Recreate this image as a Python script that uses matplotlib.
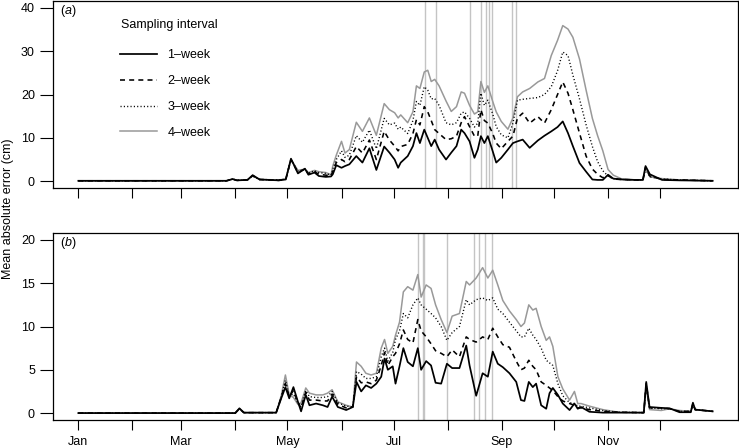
import matplotlib
matplotlib.use("Agg")
import matplotlib.pyplot as plt

plt.rcParams['font.family'] = ['Liberation Sans', 'DejaVu Sans']
plt.rcParams['font.size'] = 9
plt.rcParams['mathtext.fontset'] = 'custom'
plt.rcParams['mathtext.rm'] = 'Liberation Sans'
plt.rcParams['mathtext.it'] = 'Liberation Sans:italic'
plt.rcParams['lines.scale_dashes'] = False

# day of year (0 = 1 Jan)
month_starts = [0, 31, 59, 90, 120, 151, 181, 212, 243, 273, 304, 334]
month_labels = ['Jan', '', 'Mar', '', 'May', '', 'Jul', '', 'Sep', '', 'Nov', '']

# ---- panel (a) ----
days_a = [0, 60, 85, 88.5, 91, 97, 100, 104, 115, 119,
          122, 126, 130, 132, 135.5, 138, 142, 145, 146, 148,
          151, 153, 155.5, 159.5, 163, 167, 171, 175.5, 178.5, 181.5,
          183.5, 185, 189, 192, 194, 196, 198.5, 200.5, 202.5, 204.5,
          207, 211, 214, 217, 219.7, 221.6, 224.5, 227.3, 229.2, 231,
          233, 235, 237.8, 239.8, 242.7, 246.5, 249.4, 252, 255, 259,
          263.7, 267.5, 271.4, 275, 278, 281, 283.8, 287.6, 291.4, 295,
          298, 301, 304, 307, 312, 320, 324, 325.5, 328, 335,
          345, 364]
a_1wk = [0.1, 0.1, 0.1, 0.5, 0.2, 0.3, 1.4, 0.4, 0.2, 0.4,
         5.2, 1.8, 2.9, 1.5, 2.0, 1.2, 1.0, 1.1, 1.6, 3.7,
         3.1, 3.5, 3.9, 5.8, 4.3, 7.6, 2.6, 8.0, 6.6, 5.0,
         3.1, 4.3, 5.8, 8.1, 11.1, 8.8, 11.9, 10.0, 8.1, 9.6,
         7.3, 5.0, 6.6, 8.1, 11.9, 11.1, 9.2, 5.4, 7.3, 10.4,
         8.8, 10.4, 6.9, 4.3, 5.4, 7.3, 8.8, 9.2, 9.6, 7.7,
         9.4, 10.5, 11.5, 12.5, 13.8, 11.1, 8.1, 4.2, 2.2, 0.4,
         0.3, 0.3, 1.5, 0.6, 0.4, 0.3, 0.3, 3.5, 1.6, 0.3,
         0.2, 0.1]
a_2wk = [0.1, 0.1, 0.1, 0.5, 0.2, 0.3, 1.3, 0.4, 0.2, 0.4,
         5.0, 2.0, 2.8, 1.7, 2.2, 1.6, 1.4, 1.3, 2.2, 4.3,
         5.0, 4.5, 5.0, 8.0, 6.5, 9.5, 5.0, 11.5, 9.5, 8.1,
         7.0, 8.0, 8.5, 11.0, 14.2, 13.0, 17.2, 16.0, 14.0, 11.9,
         11.0, 9.6, 9.8, 10.4, 13.5, 14.9, 12.6, 10.4, 10.4, 16.5,
         14.0, 13.4, 11.0, 8.8, 7.5, 9.2, 10.4, 14.6, 15.7, 13.4,
         14.9, 13.4, 16.5, 20.0, 22.9, 20.3, 16.5, 11.1, 5.8, 2.8,
         1.6, 0.8, 1.3, 0.5, 0.4, 0.3, 0.3, 3.2, 1.2, 0.4,
         0.3, 0.1]
a_3wk = [0.1, 0.1, 0.1, 0.5, 0.2, 0.3, 1.2, 0.4, 0.3, 0.5,
         5.0, 2.3, 2.8, 1.9, 2.4, 2.0, 1.8, 1.4, 2.8, 5.0,
         7.0, 5.5, 6.0, 10.5, 9.0, 11.8, 7.5, 14.5, 13.0, 13.4,
         12.0, 12.5, 11.0, 14.0, 18.4, 17.5, 21.8, 21.0, 19.0, 19.1,
         17.5, 13.5, 13.0, 13.5, 15.7, 16.0, 14.5, 12.5, 13.4, 20.3,
         17.5, 18.7, 15.5, 12.6, 10.7, 10.0, 13.4, 18.7, 18.9, 19.1,
         19.3, 20.0, 21.8, 25.5, 29.8, 29.0, 24.5, 19.0, 13.0, 8.0,
         4.5, 2.4, 1.2, 0.6, 0.4, 0.3, 0.3, 2.8, 1.0, 0.5,
         0.3, 0.1]
a_4wk = [0.1, 0.1, 0.1, 0.5, 0.2, 0.3, 1.2, 0.4, 0.3, 0.5,
         5.0, 2.5, 2.8, 2.0, 2.5, 2.2, 2.0, 1.5, 3.5, 6.0,
         9.2, 6.5, 7.3, 13.6, 11.5, 14.6, 10.6, 17.9, 16.5, 15.8,
         14.6, 15.3, 13.5, 16.0, 22.0, 21.4, 25.2, 25.6, 23.0, 23.5,
         22.0, 18.5, 16.1, 17.2, 20.6, 20.3, 17.5, 15.5, 16.0, 23.0,
         20.5, 22.0, 18.4, 16.0, 13.8, 12.0, 14.6, 19.5, 20.6, 21.4,
         22.9, 23.7, 29.0, 32.5, 35.9, 35.1, 33.2, 28.2, 21.0, 14.5,
         10.5, 7.0, 2.7, 1.4, 0.5, 0.3, 0.3, 3.0, 1.0, 0.6,
         0.3, 0.1]
vlines_a = [198.9, 205.5, 224.7, 230.8, 234.2, 235.4, 237.4, 249.1, 250.9]

# ---- panel (b) ----
days_b = [0, 60, 90, 92.4, 95, 113.5, 116.4, 118.8, 121, 123.4,
          126, 127.8, 130.5, 132.6, 136.4, 140.3, 143, 145.6, 148.9, 153.7,
          157.5, 159.6, 162.3, 165, 168, 171, 173.8, 175.7, 177.6, 180.4,
          182, 184.3, 186.5, 189, 192, 194.8, 196.7, 199.6, 202.4, 205,
          208.2, 211.5, 214.5, 218.7, 222.6, 224.5, 228.3, 232, 235, 237.8,
          240.7, 243.6, 247.4, 251.3, 254, 256, 258.5, 260.8, 262.7, 265.6,
          268.5, 270.4, 272.3, 275.2, 278, 281.9, 284.7, 286.6, 288.5, 293.3,
          301, 310, 324.5, 325.9, 327.8, 334.5, 339.3, 345, 351.5, 352.7,
          354, 364]
b_1wk = [0, 0, 0, 0.55, 0.05, 0.05, 1.7, 3.0, 1.7, 3.0,
         1.3, 0.2, 2.1, 0.9, 1.1, 0.9, 0.7, 1.9, 0.7, 0.35,
         0.7, 3.6, 2.5, 3.2, 2.9, 3.4, 4.2, 6.3, 5.0, 5.4,
         3.4, 5.4, 7.5, 5.9, 5.4, 7.5, 5.0, 6.0, 5.5, 3.5,
         3.4, 5.7, 5.2, 5.2, 7.8, 5.5, 2.0, 4.6, 4.2, 7.1,
         5.7, 5.3, 4.6, 3.6, 1.5, 1.4, 3.6, 3.0, 3.4, 0.9,
         0.5, 2.3, 2.9, 2.1, 1.1, 0.35, 1.1, 0.5, 0.7, 0.15,
         0.05, 0.05, 0.05, 3.6, 0.7, 0.6, 0.55, 0.1, 0.1, 1.2,
         0.4, 0.2]
b_2wk = [0, 0, 0, 0.5, 0.05, 0.05, 1.8, 3.4, 1.9, 2.6,
         1.2, 0.6, 2.4, 1.5, 1.5, 1.4, 1.4, 2.2, 1.0, 0.6,
         0.7, 4.2, 3.5, 3.6, 3.4, 3.8, 5.5, 7.0, 5.5, 6.5,
         6.9, 8.0, 9.6, 8.5, 8.1, 10.8, 9.5, 8.8, 8.0, 7.2,
         6.9, 6.5, 7.3, 6.5, 8.8, 8.5, 8.2, 8.8, 8.5, 9.8,
         8.8, 7.9, 7.6, 6.0, 5.0, 5.2, 6.1, 5.4, 5.0, 3.6,
         3.2, 2.9, 2.6, 1.9, 1.4, 1.1, 0.9, 0.6, 0.6, 0.4,
         0.2, 0.1, 0.05, 3.4, 0.6, 0.6, 0.5, 0.2, 0.2, 1.1,
         0.4, 0.2]
b_3wk = [0, 0, 0, 0.5, 0.05, 0.05, 1.9, 3.8, 2.0, 2.2,
         1.1, 0.9, 2.6, 1.9, 1.8, 1.8, 1.9, 2.5, 1.2, 0.8,
         0.7, 4.8, 4.5, 4.0, 4.0, 4.2, 6.5, 7.5, 6.0, 7.0,
         8.5, 9.5, 11.5, 11.0, 12.5, 13.3, 12.5, 12.0, 11.5, 11.0,
         10.0, 8.4, 9.3, 10.0, 13.1, 12.5, 13.1, 13.3, 13.0, 13.3,
         12.0, 11.5, 10.5, 9.5, 8.8, 8.8, 9.8, 9.0, 8.5, 7.5,
         6.1, 5.8, 5.5, 3.4, 2.0, 1.2, 1.1, 0.8, 0.8, 0.6,
         0.3, 0.1, 0.05, 3.2, 0.6, 0.5, 0.5, 0.2, 0.2, 1.0,
         0.4, 0.2]
b_4wk = [0, 0, 0, 0.5, 0.05, 0.05, 2.0, 4.4, 2.1, 1.8,
         1.0, 1.2, 2.9, 2.3, 2.1, 2.1, 2.3, 2.7, 1.3, 0.9,
         0.7, 5.9, 5.4, 4.6, 4.4, 4.6, 7.5, 8.5, 6.9, 7.7,
         9.0, 10.5, 14.0, 14.6, 14.2, 16.0, 13.4, 14.8, 14.4, 12.5,
         10.8, 9.3, 11.2, 11.5, 15.2, 14.8, 15.6, 16.8, 15.6, 16.5,
         14.8, 13.0, 11.8, 10.8, 10.0, 10.4, 12.5, 11.9, 12.1, 10.0,
         8.4, 8.8, 7.7, 4.2, 2.8, 1.5, 2.5, 1.1, 1.1, 0.8,
         0.4, 0.1, 0.05, 3.0, 0.4, 0.3, 0.5, 0.3, 0.2, 1.0,
         0.4, 0.2]
vlines_b = [194.8, 197.9, 198.6, 211.7, 226.8, 229.8, 233.6, 237.5]

labels = ['1\u2013week', '2\u2013week', '3\u2013week', '4\u2013week']
styles = [dict(color='black', lw=1.25, ls='-'),
          dict(color='black', lw=1.15, ls=(0, (3.6, 3.0))),
          dict(color='black', lw=1.0, ls=(0, (0.8, 1.6))),
          dict(color='#999999', lw=1.1, ls='-')]

fig = plt.figure(figsize=(7.39, 4.48), dpi=100)
ax_a = fig.add_axes([0.0717, 0.580, 0.927, 0.418])
ax_b = fig.add_axes([0.0717, 0.0625, 0.927, 0.4174])


def draw_panel(ax, days, series, vlines, ylim, yticks, tag):
    for d in vlines:
        ax.axvline(d, color='#c4c4c4', lw=1.0, zorder=1)
    handles = []
    for vals, st in reversed(list(zip(series, styles))):
        h, = ax.plot(days, vals, zorder=2, **st)
        handles.insert(0, h)
    ax.set_xlim(-14.6, 378.6)
    ax.set_ylim(*ylim)
    ax.set_yticks(yticks)
    ax.set_xticks(month_starts)
    ax.tick_params(axis='y', length=9.4, width=0.8, pad=3.6)
    ax.tick_params(axis='x', length=7.2, width=0.8, pad=4.0)
    for sp in ax.spines.values():
        sp.set_linewidth(0.9)
    ax.text(0.010, 0.945, r'($\it{' + tag + r'}$)', transform=ax.transAxes,
            ha='left', va='center')
    return handles


handles = draw_panel(ax_a, days_a, [a_1wk, a_2wk, a_3wk, a_4wk], vlines_a,
                     (-1.6, 41.6), [0, 10, 20, 30, 40], 'a')
ax_a.set_xticklabels([])
draw_panel(ax_b, days_b, [b_1wk, b_2wk, b_3wk, b_4wk], vlines_b,
           (-0.8, 20.8), [0, 5, 10, 15, 20], 'b')
ax_b.set_xticklabels(month_labels)

# legend title drawn separately so the gap below it can be wider
ax_a.text(0.0988, 0.872, 'Sampling interval', transform=ax_a.transAxes,
          ha='left', va='center')
ax_a.legend(handles, labels, frameon=False,
            loc='upper left', bbox_to_anchor=(0.0978, 0.741),
            borderaxespad=0, borderpad=0, handlelength=3.0,
            handletextpad=0.8, labelspacing=1.1, fontsize=9)

fig.text(0.011, 0.535, 'Mean absolute error (cm)', rotation=90,
         ha='center', va='center', fontsize=9)

fig.savefig('out.png', dpi=100)
